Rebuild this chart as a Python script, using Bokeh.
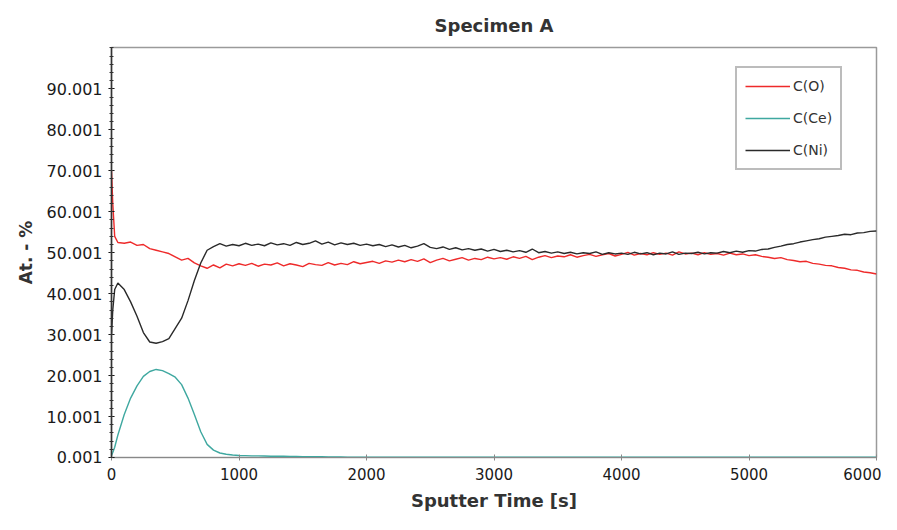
from bokeh.plotting import figure
from bokeh.models import FixedTicker, Range1d, Legend, LegendItem
from bokeh.embed import file_html
from bokeh.resources import INLINE

# ---- data ----
time_s = [0, 10, 25] + list(range(50, 6001, 50))

c_o = [70.0, 62.0, 54.0, 52.5, 52.3, 52.6, 51.8, 52.0, 51.0, 50.6, 50.2, 49.8, 49.0, 48.2, 48.6, 47.5, 46.8, 46.2, 47.0, 46.3, 47.2, 46.8, 47.3,
       46.9, 47.4, 46.7, 47.2, 47.0, 47.5, 46.8, 47.3, 47.0, 46.6, 47.4, 47.1, 46.9, 47.6, 47.0, 47.4, 47.1, 47.8, 47.3, 47.6,
       47.9, 47.4, 48.0, 47.7, 48.2, 47.8, 48.3, 47.9, 48.5, 47.6, 48.2, 48.6, 48.0, 48.4, 48.8, 48.2, 48.6, 48.3, 48.9, 48.5,
       48.8, 48.4, 49.0, 48.6, 49.1, 48.3, 48.9, 49.3, 48.8, 49.2, 49.0, 49.5, 48.9, 49.3, 49.6, 49.1, 49.5, 49.8, 49.2, 49.6,
       50.1, 49.4, 49.8, 49.5, 50.0, 49.6, 49.9, 49.4, 50.2, 49.7, 49.9, 49.5, 50.0, 49.6, 49.8, 49.4, 49.9, 49.5, 49.7, 49.3,
       49.5, 49.1, 48.9, 48.6, 48.8, 48.3, 48.1, 47.8, 47.9, 47.4, 47.2, 46.9, 46.8, 46.4, 46.2, 45.8, 45.7, 45.3, 45.1, 44.8]

c_ce = [0.5, 1.2, 2.5, 5.5, 10.5, 14.5, 17.5, 19.8, 21.0, 21.5, 21.2, 20.5, 19.6, 17.8, 14.5, 10.5, 6.3, 3.2, 1.8, 1.1, 0.8, 0.6, 0.5,
        0.45, 0.4, 0.4, 0.35, 0.3, 0.3, 0.3, 0.25, 0.25, 0.2, 0.2, 0.2, 0.2, 0.15, 0.15, 0.15, 0.1, 0.1, 0.1, 0.1,
        0.05, 0.05, 0.05, 0.05, 0.05, 0.05, 0.05, 0.05, 0.05, 0.05, 0.05, 0.05, 0.05, 0.05, 0.05, 0.05, 0.05, 0.05, 0.05, 0.05,
        0.05, 0.05, 0.05, 0.05, 0.05, 0.05, 0.05, 0.05, 0.05, 0.05, 0.05, 0.05, 0.05, 0.05, 0.05, 0.05, 0.05, 0.05, 0.05, 0.05,
        0.05, 0.05, 0.05, 0.05, 0.05, 0.05, 0.05, 0.05, 0.05, 0.05, 0.05, 0.05, 0.05, 0.05, 0.05, 0.05, 0.05, 0.05, 0.05, 0.05,
        0.05, 0.05, 0.05, 0.05, 0.05, 0.05, 0.05, 0.05, 0.05, 0.05, 0.05, 0.05, 0.05, 0.05, 0.05, 0.05, 0.05, 0.05, 0.05, 0.05]

c_ni = [30.0, 36.0, 41.0, 42.6, 41.0, 38.0, 34.5, 30.5, 28.2, 27.9, 28.3, 29.0, 31.5, 34.0, 38.3, 43.2, 47.5, 50.6, 51.5, 52.2, 51.6, 52.0, 51.7,
        52.3, 51.8, 52.1, 51.7, 52.4, 51.9, 52.2, 51.8, 52.5, 52.0, 52.3, 52.9, 52.1, 52.6, 51.9, 52.4, 52.0, 52.3, 51.8, 52.1,
        51.7, 52.0, 51.5, 51.9, 51.4, 51.8, 51.2, 51.6, 52.2, 51.3, 51.0, 51.4, 50.8, 51.2, 50.7, 51.0, 50.6, 50.9, 50.4, 50.8,
        50.3, 50.6, 50.2, 50.5, 50.1, 50.9, 50.0, 50.3, 49.9, 50.2, 49.8, 50.1, 49.7, 50.0, 49.8, 50.2, 49.6, 50.0, 49.7, 49.9,
        49.6, 50.1, 49.7, 50.0, 49.5, 49.9, 49.7, 50.2, 49.6, 49.9, 49.8, 50.1, 49.7, 50.0, 49.9, 50.3, 50.0, 50.4, 50.1, 50.5,
        50.4, 50.8, 50.9, 51.3, 51.6, 52.0, 52.2, 52.6, 52.9, 53.2, 53.4, 53.8, 54.0, 54.2, 54.5, 54.4, 54.8, 54.9, 55.2, 55.3]

series_names = ["C(O)", "C(Ce)", "C(Ni)"]
series_colors = ["#ee2a2a", "#3fa8a0", "#2a2a2a"]

y_ticks = [0.001, 10.001, 20.001, 30.001, 40.001, 50.001, 60.001, 70.001, 80.001, 90.001]
y_labels = ["0.001", "10.001", "20.001", "30.001", "40.001", "50.001", "60.001", "70.001", "80.001", "90.001"]
x_ticks = [0, 1000, 2000, 3000, 4000, 5000, 6000]

# ---- figure ----
p = figure(width=881, height=514, output_backend="svg", toolbar_location=None,
           x_range=Range1d(0, 6000), y_range=Range1d(0, 100.1),
           min_border_left=111, min_border_right=5, min_border_top=45, min_border_bottom=57)

p.title.text = "Specimen A"
p.title.align = "center"
p.title.text_font = "DejaVu Sans"
p.title.text_font_size = "18px"
p.title.text_font_style = "bold"
p.title.text_color = "#333333"
p.title.offset = 0
p.title.standoff = 24

p.xgrid.visible = False
p.ygrid.visible = False
p.outline_line_color = "#9a9a9a"
p.outline_line_width = 1.5
p.background_fill_color = "white"
p.border_fill_color = "white"

renderers = []
for vals, col in zip([c_o, c_ce, c_ni], series_colors):
    r = p.line(time_s, vals, line_color=col, line_width=1.4)
    renderers.append(r)

# axes
p.xaxis.ticker = FixedTicker(ticks=x_ticks)
p.yaxis.ticker = FixedTicker(ticks=y_ticks, minor_ticks=[v + 0.001 for v in range(0, 101, 2)])
p.yaxis.major_label_overrides = {t: l for t, l in zip(y_ticks, y_labels)}

p.xaxis.axis_label = "Sputter Time [s]"
p.yaxis.axis_label = "At. - %"
for ax in (p.xaxis, p.yaxis):
    ax.axis_label_text_font = "DejaVu Sans"
    ax.axis_label_text_font_style = "bold"
    ax.axis_label_text_color = "#333333"
    ax.major_label_text_font = "DejaVu Sans"
    ax.major_label_text_color = "#1a1a1a"
    ax.major_tick_in = 3
    ax.major_tick_out = 3
    ax.minor_tick_in = 0
    ax.minor_tick_out = 0

p.xaxis.axis_label_text_font_size = "18px"
p.yaxis.axis_label_text_font_size = "17px"
p.xaxis.major_label_text_font_size = "15px"
p.yaxis.major_label_text_font_size = "16px"
p.xaxis.axis_line_color = "#888888"
p.xaxis.major_tick_line_color = "#888888"
p.yaxis.axis_line_color = "#333333"
p.yaxis.axis_line_width = 1.5
p.yaxis.minor_tick_in = 2
p.yaxis.minor_tick_out = 2
p.yaxis.minor_tick_line_color = "#333333"
p.xaxis.major_label_standoff = 7
p.yaxis.major_label_standoff = 6
p.xaxis.axis_label_standoff = 7
p.yaxis.axis_label_standoff = 8

legend = Legend(items=[LegendItem(label=n, renderers=[r]) for n, r in zip(series_names, renderers)],
                location=(624, 287))
legend.label_text_font = "DejaVu Sans"
legend.label_text_font_size = "14px"
legend.label_text_color = "#333333"
legend.glyph_width = 45
legend.glyph_height = 20
legend.label_height = 20
legend.label_standoff = 3
legend.spacing = 12
legend.padding = 8
legend.margin = 0
legend.border_line_color = "#7a7a7a"
legend.border_line_width = 2
legend.background_fill_alpha = 1.0
p.add_layout(legend, "center")

open("out.html", "w").write(file_html(p, INLINE))
